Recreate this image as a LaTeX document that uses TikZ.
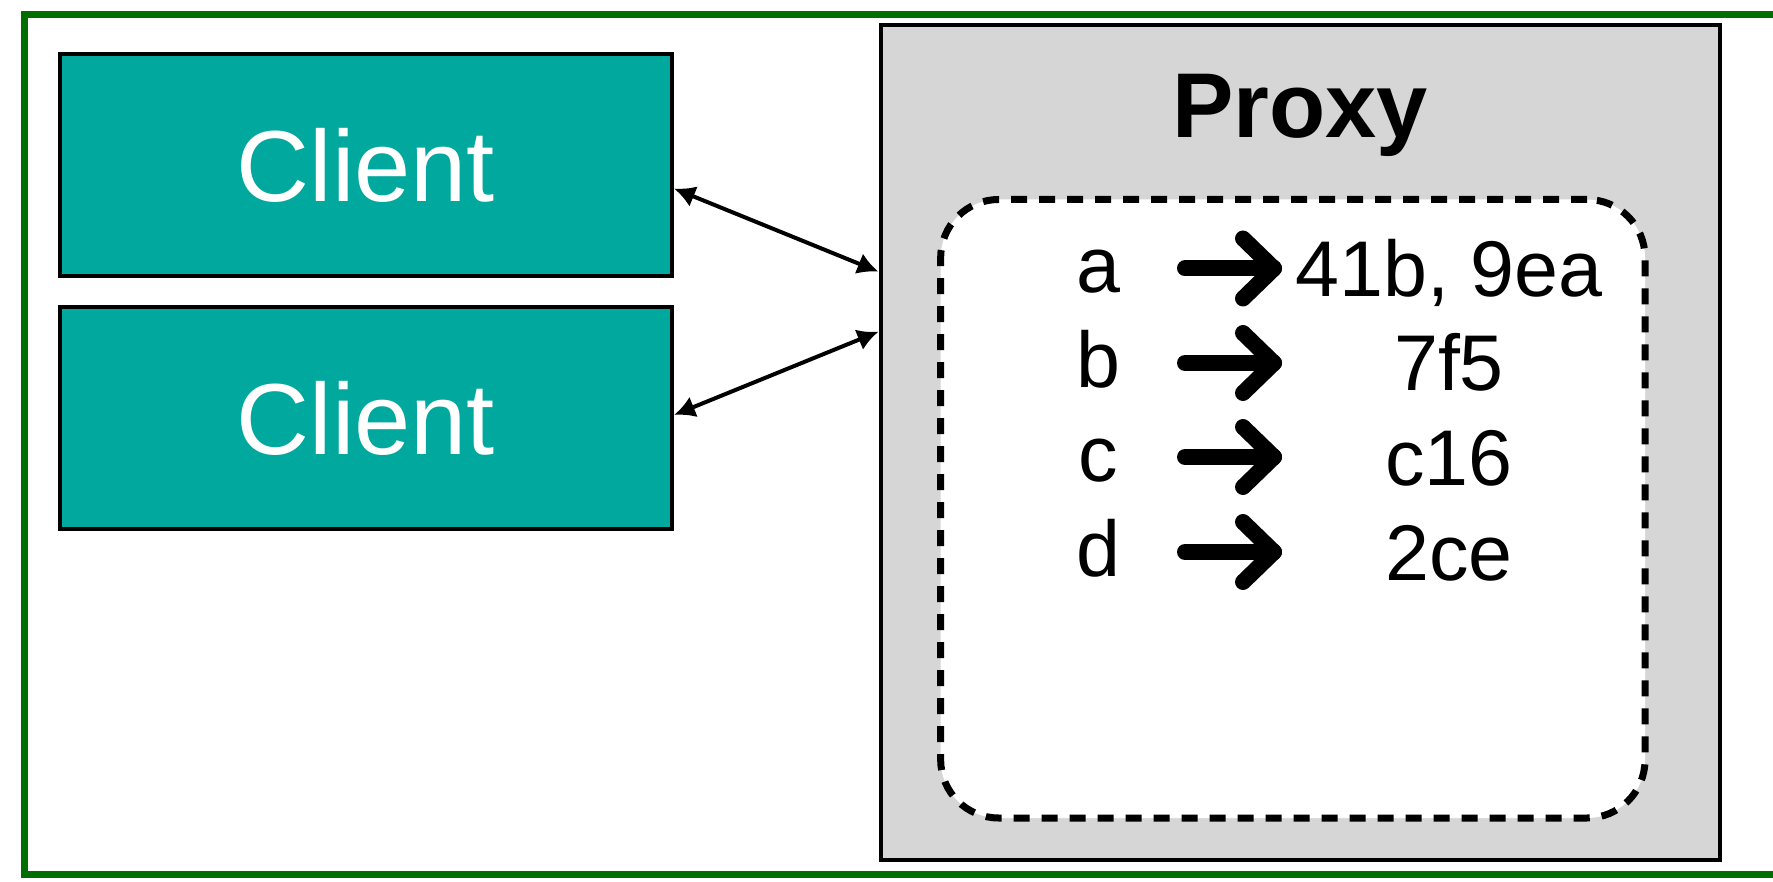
\documentclass[tikz,border=0pt]{standalone}
\usepackage{fontspec}
\setmainfont{Liberation Sans}
\usetikzlibrary{arrows.meta,calc}
\definecolor{clientteal}{RGB}{0,168,157}
\definecolor{proxygray}{RGB}{214,214,214}
\definecolor{framegreen}{RGB}{0,110,0}
\tikzset{
  framebox/.style={draw=framegreen, line width=3.5pt, fill=none, minimum width=888pt, minimum height=430pt, inner sep=0pt},
  clientbox/.style={draw=black, line width=2pt, fill=clientteal, minimum width=306pt, minimum height=111pt, inner sep=0pt, text=white, font=\fontsize{50.5}{60}\selectfont},
  proxybox/.style={draw=black, line width=2pt, fill=proxygray, minimum width=419.75pt, minimum height=417.5pt, inner sep=0pt},
  titletext/.style={anchor=base, inner sep=0pt, font=\bfseries\fontsize{46}{55}\selectfont},
  mapbox/.style={draw=black, line width=3.5pt, dash pattern=on 8pt off 6pt, fill=white, rounded corners=29pt, minimum width=352.15pt, minimum height=309.25pt, inner sep=0pt},
  keytext/.style={anchor=base, inner sep=0pt, font=\fontsize{39.5}{47}\selectfont},
  link/.style={line width=2pt, {Latex[length=10.5pt,width=11pt]}-{Latex[length=10.5pt,width=11pt]}},
  maparrow/.style={line width=8pt, line cap=round, line join=round}
}
\begin{document}
\begin{tikzpicture}[x=0.5pt,y=-0.5pt]
\clip (0,0) rectangle (1773,882);
\fill[white] (0,0) rectangle (1773,882);
\node[framebox] (frame) at (912.5,444.5) {};
\node[clientbox] (c1) at (366,165) {Client};
\node[clientbox] (c2) at (366,418) {Client};
\node[proxybox] (proxy) at (1300.25,442.5) {};
\node[titletext] (ptitle) at (1300,138) {Proxy};
\node[mapbox] (map) at (1292.85,508.75) {};
\draw[link] ([yshift=-11.75pt]c1.east) -- ([yshift=85.4pt]proxy.west);
\draw[link] ([yshift=1.5pt]c2.east) -- ([yshift=55.4pt]proxy.west);
\foreach \y/\k/\v in {268.5/a/{41b, 9ea}, 363/b/7f5, 457/c/c16, 552/d/2ce} {
  \node[keytext] (k\k) at (1098,\y+24) {\k};
  \node[keytext] (v\k) at (1449,\y+28) {\v};
  \coordinate (s\k) at (1185,\y);
  \coordinate (e\k) at (1274,\y);
  \draw[maparrow] (s\k) -- (e\k);
  \draw[maparrow] ($(e\k)+(-31,-30)$) -- (e\k) -- ($(e\k)+(-31,30)$);
}
\end{tikzpicture}
\end{document}
